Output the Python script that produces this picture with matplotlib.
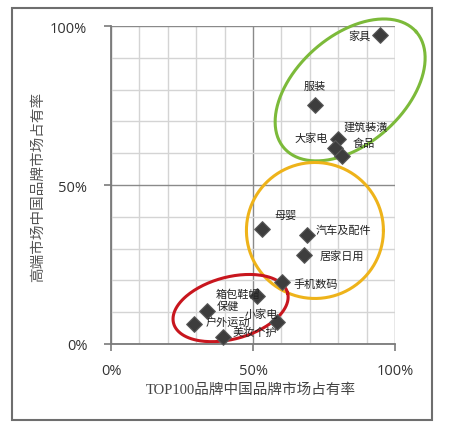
import matplotlib
matplotlib.use("Agg")
import numpy as np
from matplotlib import pyplot as plt
from matplotlib.patches import Rectangle
from matplotlib.ticker import MultipleLocator, FuncFormatter

plt.rcParams["font.family"] = ["Noto Sans CJK SC", "DejaVu Sans"]

# category, share of TOP100 brands (x, %), share of high-end market (y, %)
categories = ["家具", "服装", "大家电", "建筑装潢", "食品", "母婴", "汽车及配件",
              "居家日用", "手机数码", "箱包鞋帽", "保健", "户外运动", "美妆个护", "小家电"]
top100_share = [94.7, 71.8, 80.0, 79.0, 81.5, 53.2, 69.0,
                67.8, 60.2, 51.4, 33.8, 29.2, 39.6, 58.5]
highend_share = [97.2, 75.2, 64.5, 61.5, 59.0, 36.2, 34.3,
                 28.0, 19.5, 15.1, 10.4, 6.3, 2.2, 6.9]

# label placement in pixels relative to each marker: (dx, dy, ha)
label_offsets = {
    "家具": (-9, 0, "right"),
    "服装": (0, 19, "center"),
    "大家电": (-10, 1, "right"),
    "建筑装潢": (8, 22, "left"),
    "食品": (10, 14, "left"),
    "母婴": (23, 14, "center"),
    "汽车及配件": (9, 5, "left"),
    "居家日用": (16, 0, "left"),
    "手机数码": (11, -2, "left"),
    "箱包鞋帽": (3, 2, "right"),
    "保健": (10, 5, "left"),
    "户外运动": (12, 3, "left"),
    "美妆个护": (9, 5, "left"),
    "小家电": (1, 8, "right"),
}

# group rings: centre (data %), half axes (px), tilt (deg), colour
groups = [
    ((84.2, 79.9), 88, 54, 41.5, "#7cba3a"),
    ((71.8, 35.7), 68.5, 68, 0, "#eeb31a"),
    ((42.1, 11.3), 59, 31, 15, "#c8161e"),
]

fig = plt.figure(figsize=(4.5, 4.35), dpi=100)
fig.patch.set_facecolor("white")
ax = fig.add_axes([0.2467, 0.2069, 0.6311, 0.731])

ax.set_xlim(0, 100)
ax.set_ylim(0, 100)
ax.xaxis.set_major_locator(MultipleLocator(50))
ax.yaxis.set_major_locator(MultipleLocator(50))
ax.xaxis.set_minor_locator(MultipleLocator(10))
ax.yaxis.set_minor_locator(MultipleLocator(10))
pct = FuncFormatter(lambda v, _: f"{v:.0f}%")
ax.xaxis.set_major_formatter(pct)
ax.yaxis.set_major_formatter(pct)
ax.grid(True, which="minor", color="#d4d4d4", linewidth=1.0)
ax.grid(True, which="major", color="#8a8a8a", linewidth=1.0)
ax.set_axisbelow(True)
for side in ("top", "right"):
    ax.spines[side].set_visible(False)
for side in ("left", "bottom"):
    ax.spines[side].set_color("#7a7a7a")
    ax.spines[side].set_linewidth(1.3)
ax.tick_params(which="major", direction="out", length=5, width=1.2, color="#7a7a7a",
               labelsize=10.5, labelcolor="#333333", pad=12)
ax.tick_params(which="minor", length=0)
ax.tick_params(axis="x", pad=9)
for lbl in ax.get_xticklabels() + ax.get_yticklabels():
    lbl.set_family(["Open Sans", "DejaVu Sans"])

# rings are shaped in pixels so the tilt is not skewed by the axes aspect
px_x = ax.bbox.width / 100
px_y = ax.bbox.height / 100
t = np.linspace(0, 2 * np.pi, 200)
for (cx, cy), a, b, ang, col in groups:
    th = np.radians(ang)
    ex = a * np.cos(t) * np.cos(th) - b * np.sin(t) * np.sin(th)
    ey = a * np.cos(t) * np.sin(th) + b * np.sin(t) * np.cos(th)
    ax.plot(cx + ex / px_x, cy + ey / px_y, color=col, linewidth=2.2,
            zorder=2, clip_on=False)

ax.scatter(top100_share, highend_share, marker="D", s=64, color="#3d3d3d",
           edgecolors="#5a5a5a", linewidths=0.8, zorder=4, clip_on=False)

for name, x, y in zip(categories, top100_share, highend_share):
    dx, dy, ha = label_offsets[name]
    ax.annotate(name, (x, y), xytext=(dx, dy), textcoords="offset pixels",
                ha=ha, va="center", fontsize=8, color="#222222", zorder=5)

fig.text(0.084, 0.57, "高端市场中国品牌市场占有率", rotation=90, ha="center", va="center",
         fontsize=10.5, color="#555555")
fig.text(0.558, 0.103, "TOP100品牌中国品牌市场占有率", ha="center", va="center",
         fontsize=10.5, color="#444444", family=["Liberation Serif", "Noto Sans CJK SC"])

# outer frame around the chart
fig.patches.append(Rectangle((0.027, 0.032), 0.933, 0.947, transform=fig.transFigure,
                             fill=False, edgecolor="#6e6e6e", linewidth=1.5))

fig.savefig("out.png", dpi=100)
